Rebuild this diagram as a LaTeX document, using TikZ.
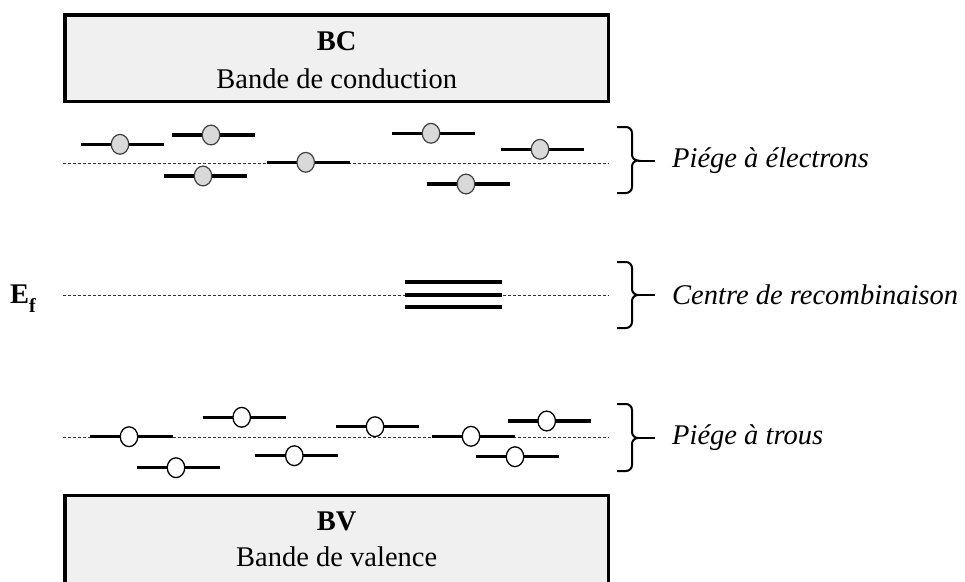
\documentclass[tikz,border=0pt]{standalone}
\usepackage{fontspec}
\setmainfont{Liberation Serif}
\usetikzlibrary{positioning,shapes.geometric}

\newcommand{\bandfont}{\fontsize{28.5}{34}\selectfont}

\tikzset{
  band/.style={draw,line width=3.3pt,fill=black!6,inner sep=0pt},
  level/.style={line width=3.5pt},
  fermi/.style={line width=0.8pt,dash pattern=on 3pt off 2pt,black!80},
  elec/.style={ellipse,draw=black!75,line width=1.2pt,fill=black!15,minimum width=17.5pt,minimum height=19.8pt,inner sep=0pt},
  hole/.style={ellipse,draw,line width=1.3pt,fill=white,minimum width=17.5pt,minimum height=19.8pt,inner sep=0pt},
  brc/.style={line width=2pt},
  traplbl/.style={font=\bandfont\itshape,anchor=west,inner xsep=17pt,inner ysep=0pt},
}

% brace: top, tip, bottom
\newcommand{\trapbrace}[3]{%
  \draw[brc] (617,#1) -- (626,#1) to[out=0,in=90] (632,{#1+6}) -- (632,{#2-6})
    to[out=270,in=180] (638,#2) to[out=180,in=90] (632,{#2+6}) -- (632,{#3-6})
    to[out=270,in=0] (626,#3) -- (617,#3);
}

\begin{document}
\begin{tikzpicture}[x=1pt,y=-1pt,font=\bandfont]
  \useasboundingbox (0,0) rectangle (965,581);

  % bands
  \node[band,minimum width=543.3pt,minimum height=86.3pt] (bc) at (336.7,58.2) {};
  \node[anchor=base] (bcname) at (336.7,50) {\textbf{BC}};
  \node[anchor=base] (bctext) at (336.7,88.3) {Bande de conduction};
  \node[band,minimum width=543.3pt,minimum height=110pt] (bv) at (336.7,550.7) {};
  \node[anchor=base] (bvname) at (336.7,530) {\textbf{BV}};
  \node[anchor=base] (bvtext) at (336.7,566.7) {Bande de valence};

  % reference levels
  \draw[fermi] (63,163.3) -- (609,163.3);
  \draw[fermi] (63,295) -- (609,295);
  \draw[fermi] (63,437.3) -- (609,437.3);
  \node[anchor=base west,inner sep=0pt] (ef) at (10,303)
    {\textbf{E}\raisebox{-9pt}{\fontsize{20}{20}\selectfont\textbf{f}}};

  % electron traps
  \foreach \cx/\cy [count=\i] in {120/144.3,211/135,203/176,305.7/162.3,431/133.3,540/149.3,466/184} {
    \draw[level] (\cx-39,\cy) -- (\cx+44,\cy);
    \node[elec] (e\i) at (\cx,\cy) {};
  }

  % recombination centre
  \foreach \ry in {281.7,295,307}
    \draw[line width=3.7pt] (405,\ry) -- (502.3,\ry);

  % hole traps
  \foreach \cx/\cy [count=\i] in {129/436.7,241.7/417.3,176/467.7,294.3/455.7,375/426.7,471/436.3,546.7/421,515/456.7} {
    \draw[level] (\cx-39,\cy) -- (\cx+44,\cy);
    \node[hole] (h\i) at (\cx,\cy) {};
  }

  % braces and labels
  \trapbrace{127}{160.5}{193}
  \coordinate (tE) at (638,160.5);
  \node[traplbl,right=17pt of tE] (lE) {Piége à électrons};
  \draw[brc] (tE) -- (lE.west);

  \trapbrace{262}{295}{328}
  \coordinate (tR) at (638,295);
  \node[traplbl,right=17pt of tR] (lR) {Centre de recombinaison};
  \draw[brc] (tR) -- (lR.west);

  \trapbrace{404}{438}{471}
  \coordinate (tH) at (638,438);
  \node[traplbl,right=17pt of tH] (lH) {Piége à trous};
  \draw[brc] (tH) -- (lH.west);
\end{tikzpicture}
\end{document}
